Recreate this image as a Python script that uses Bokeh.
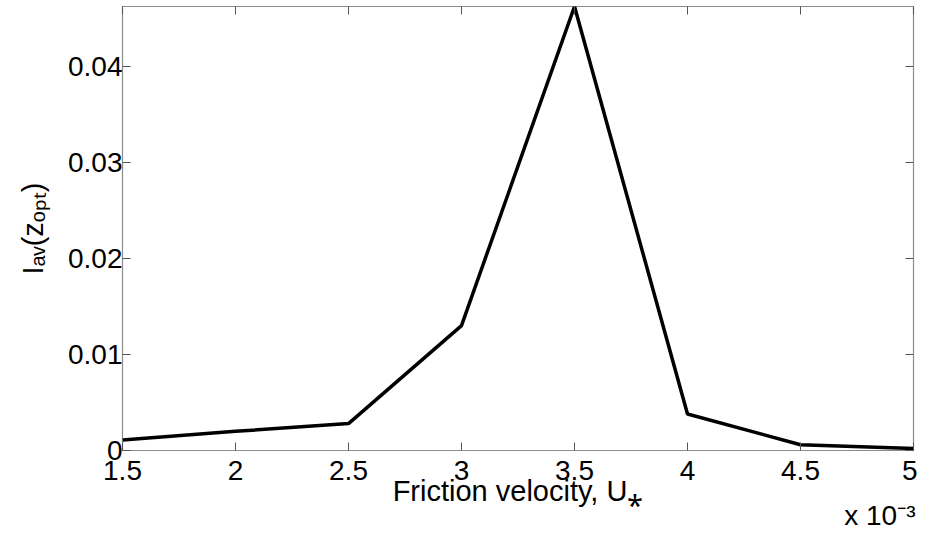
from bokeh.plotting import figure
from bokeh.models import (Range1d, LinearAxis, FixedTicker, CustomJSTickFormatter, Title)
from bokeh.embed import file_html
from bokeh.resources import INLINE

# Data (friction velocity in units of 1e-3)
friction_velocity = [1.5, 2.0, 2.5, 3.0, 3.5, 4.0, 4.5, 5.0]
iav_zopt = [0.0011, 0.0020, 0.0028, 0.0130, 0.0462, 0.0038, 0.0006, 0.0002]

x_ticks = [1.5, 2.0, 2.5, 3.0, 3.5, 4.0, 4.5, 5.0]
y_ticks = [0.0, 0.01, 0.02, 0.03, 0.04]

x_label = "Friction velocity, U\u204e"
y_label = "I\u2090\u1d65(z\u2092\u209a\u209c)"
x_multiplier = "x 10\u207b\u00b3"

FONT = "Liberation Sans"
FRAME_COL = "#8c8c8c"
TICK_COL = "#555555"

W, H = 917, 530
ML, MR, MT, MB = 122, 4, 6, 80

p = figure(width=W, height=H, output_backend="svg", toolbar_location=None,
           x_range=Range1d(1.5, 5.0), y_range=Range1d(0.0, 0.0462),
           x_axis_type=None, y_axis_type=None,
           min_border_left=ML, min_border_right=MR,
           min_border_top=MT, min_border_bottom=MB)
p.grid.visible = False
p.outline_line_color = FRAME_COL
p.outline_line_width = 1.2
p.background_fill_color = "white"
p.border_fill_color = "white"

fmt = CustomJSTickFormatter(code="return String(Math.round(tick*1000)/1000);")
blank = CustomJSTickFormatter(code="return '';")


def style_axis(ax, labels=True):
    ax.axis_line_color = None
    ax.major_tick_in = 8
    ax.major_tick_out = 0
    ax.minor_tick_line_color = None
    ax.major_tick_line_color = TICK_COL
    ax.major_tick_line_width = 1
    if labels:
        ax.major_label_text_font = FONT
        ax.major_label_text_font_size = "28px"
        ax.major_label_text_color = "black"
        ax.axis_label_text_font = FONT
        ax.axis_label_text_font_size = "29px"
        ax.axis_label_text_font_style = "normal"
        ax.axis_label_text_color = "black"
    else:
        ax.major_label_text_font_size = "0px"
        ax.major_label_standoff = 0


xb = LinearAxis(ticker=FixedTicker(ticks=x_ticks), formatter=fmt, axis_label=x_label)
style_axis(xb)
xb.major_label_standoff = 10
xb.axis_label_standoff = -8
p.add_layout(xb, "below")

mult = Title(text=x_multiplier, align="right", text_font=FONT, text_font_size="28px",
             text_font_style="normal", text_color="black", standoff=-23, offset=-2)
p.add_layout(mult, "below")

yl = LinearAxis(ticker=FixedTicker(ticks=y_ticks), formatter=fmt, axis_label=y_label)
style_axis(yl)
yl.major_label_standoff = 0
yl.axis_label_standoff = 16
p.add_layout(yl, "left")

xt = LinearAxis(ticker=FixedTicker(ticks=x_ticks), formatter=blank)
style_axis(xt, labels=False)
p.add_layout(xt, "above")

yr = LinearAxis(ticker=FixedTicker(ticks=y_ticks), formatter=blank)
style_axis(yr, labels=False)
p.add_layout(yr, "right")

p.line(friction_velocity, iav_zopt, line_color="black", line_width=3.5)

open("out.html", "w").write(file_html(p, INLINE))
